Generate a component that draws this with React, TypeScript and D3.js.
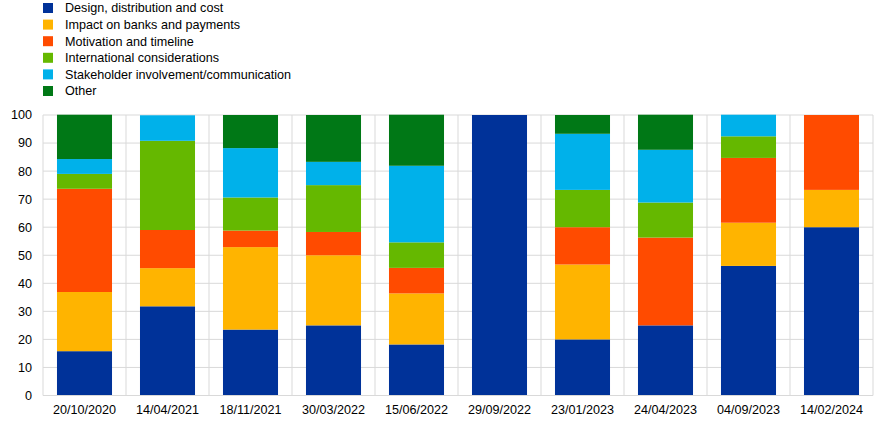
import React from "react";
import * as d3 from "d3";

const categories = [
  "20/10/2020", "14/04/2021", "18/11/2021", "30/03/2022", "15/06/2022",
  "29/09/2022", "23/01/2023", "24/04/2023", "04/09/2023", "14/02/2024",
];
const seriesNames = [
  "Design, distribution and cost",
  "Impact on banks and payments",
  "Motivation and timeline",
  "International considerations",
  "Stakeholder involvement/communication",
  "Other",
];
const design = [15.8, 31.8, 23.5, 25.0, 18.2, 100, 20.0, 25.0, 46.2, 60.0];
const impact = [21.1, 13.6, 29.4, 25.0, 18.2, 0, 26.7, 0, 15.4, 13.3];
const motivation = [36.8, 13.6, 5.9, 8.3, 9.1, 0, 13.3, 31.3, 23.1, 26.7];
const international = [5.3, 31.8, 11.8, 16.7, 9.1, 0, 13.3, 12.5, 7.7, 0];
const stakeholder = [5.3, 9.1, 17.6, 8.3, 27.3, 0, 20.0, 18.8, 7.7, 0];
const other = [15.8, 0, 11.8, 16.7, 18.2, 0, 6.7, 12.5, 0, 0];
const yTicks = [0, 10, 20, 30, 40, 50, 60, 70, 80, 90, 100];
const colors = ["#003299", "#FFB400", "#FF4B00", "#65B800", "#00B1EA", "#007816"];

const W = 874;
const H = 423;
const left = 43;
const right = 873;
const top = 115;
const bottom = 395.5;
const font = "'Liberation Sans', Arial, sans-serif";
const fs = 12.6;

export default function App() {
  const seriesValues = [design, impact, motivation, international, stakeholder, other];
  const rows = categories.map((c, i) => {
    const r: Record<string, number | string> = { cat: c };
    seriesNames.forEach((s, k) => (r[s] = seriesValues[k][i]));
    return r;
  });
  const stack = d3.stack<any>().keys(seriesNames)(rows as any);
  const x = d3.scaleBand().domain(categories).range([left, right]).padding(0);
  const y = d3.scaleLinear().domain([0, 100]).range([bottom, top]);
  const barW = x.bandwidth() * 0.663;

  return (
    <div style={{ position: "absolute", left: 0, top: 0 }}>
      <svg width={W} height={H} style={{ display: "block", fontFamily: font }}>
        <rect width={W} height={H} fill="#fff" />
        {/* legend */}
        {seriesNames.map((s, i) => (
          <g key={s} transform={`translate(43, ${8 + i * 16.6})`}>
            <rect x={0} y={-5} width={10} height={10} fill={colors[i]} />
            <text x={22} y={0} dy="0.35em" fontSize={fs} fill="#000">
              {s}
            </text>
          </g>
        ))}
        {/* grid */}
        {yTicks.map((t) => (
          <line key={"h" + t} x1={left} x2={right} y1={y(t)} y2={y(t)} stroke="#d9d9d9" strokeWidth={1} />
        ))}
        {categories.map((c) => (
          <line key={"v" + c} x1={x(c)! + x.bandwidth()} x2={x(c)! + x.bandwidth()} y1={top} y2={bottom} stroke="#d9d9d9" strokeWidth={1} />
        ))}
        <line x1={left} x2={left} y1={top} y2={bottom} stroke="#d9d9d9" strokeWidth={1} />
        {/* bars */}
        {stack.map((layer, k) => (
          <g key={layer.key} fill={colors[k]}>
            {layer.map((d, i) => {
              const h = y(d[0]) - y(d[1]);
              if (h <= 0) return null;
              return (
                <rect
                  key={i}
                  x={x(categories[i])! + (x.bandwidth() - barW) / 2}
                  y={y(d[1])}
                  width={barW}
                  height={h}
                />
              );
            })}
          </g>
        ))}
        <line x1={left} x2={right} y1={bottom} y2={bottom} stroke="#d9d9d9" strokeWidth={1} />
        {/* y labels */}
        {yTicks.map((t) => (
          <text key={"yl" + t} x={32} y={y(t)} dy="0.35em" textAnchor="end" fontSize={fs} fill="#000">
            {t}
          </text>
        ))}
        {/* x labels */}
        {categories.map((c) => (
          <text key={"xl" + c} x={x(c)! + x.bandwidth() / 2} y={414} textAnchor="middle" fontSize={fs} fill="#000">
            {c}
          </text>
        ))}
      </svg>
    </div>
  );
}
